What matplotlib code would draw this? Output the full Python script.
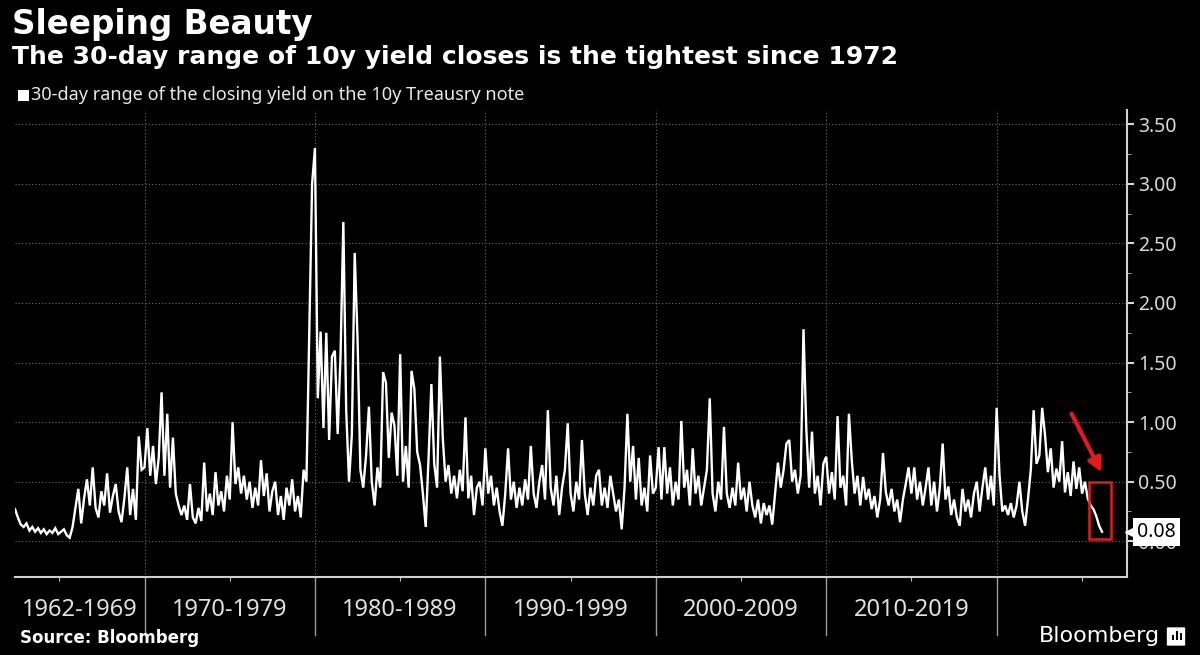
import numpy as np
import matplotlib
matplotlib.use('Agg')
import matplotlib.pyplot as plt
import matplotlib.transforms as mtransforms
from matplotlib.patches import Rectangle, FancyBboxPatch

# 30-day range of the 10y closing yield (one list per decade)
r1960s = [0.27, 0.20, 0.14, 0.12, 0.15, 0.09, 0.12, 0.08, 0.11, 0.07,
          0.10, 0.06, 0.09, 0.07, 0.11, 0.06, 0.08, 0.10, 0.05, 0.03,
          0.12, 0.28, 0.44, 0.15, 0.36, 0.52, 0.30, 0.62, 0.28, 0.20,
          0.42, 0.30, 0.57, 0.24, 0.38, 0.48, 0.25, 0.16, 0.36, 0.62,
          0.22, 0.44, 0.18, 0.88, 0.60]
r1970s = [0.62, 0.95, 0.55, 0.80, 0.48, 0.70, 1.25, 0.55, 1.07, 0.45,
          0.87, 0.40, 0.30, 0.22, 0.30, 0.18, 0.48, 0.20, 0.15, 0.28,
          0.17, 0.66, 0.25, 0.40, 0.22, 0.58, 0.30, 0.42, 0.25, 0.55,
          0.35, 1.00, 0.48, 0.62, 0.40, 0.55, 0.35, 0.50, 0.28, 0.45,
          0.30, 0.68, 0.38, 0.57, 0.25, 0.42, 0.50, 0.22, 0.38, 0.18,
          0.45, 0.30, 0.52, 0.25, 0.38, 0.20, 0.60, 0.50, 1.76, 3.00]
r1980s = [3.30, 1.20, 1.76, 0.95, 1.75, 0.85, 1.55, 1.60, 0.90, 1.55,
          2.68, 1.10, 0.50, 0.90, 2.42, 1.70, 0.60, 0.45, 0.72, 1.13,
          0.50, 0.30, 0.62, 0.45, 1.42, 1.33, 0.70, 1.08, 0.97, 0.55,
          1.57, 0.50, 0.80, 0.45, 1.43, 1.28, 0.75, 0.64, 0.40, 0.12,
          0.70, 1.32, 0.65, 0.45, 1.55, 0.87, 0.50, 0.64, 0.40, 0.55,
          0.36, 0.60, 0.42, 1.04, 0.36, 0.55, 0.22, 0.45, 0.50, 0.30]
r1990s = [0.78, 0.40, 0.55, 0.30, 0.45, 0.25, 0.13, 0.40, 0.78, 0.35,
          0.50, 0.28, 0.45, 0.30, 0.52, 0.35, 0.80, 0.40, 0.28, 0.50,
          0.64, 0.35, 1.10, 0.45, 0.30, 0.55, 0.22, 0.45, 0.60, 0.99,
          0.40, 0.25, 0.50, 0.35, 0.85, 0.40, 0.22, 0.45, 0.30, 0.55,
          0.60, 0.30, 0.45, 0.28, 0.55, 0.40, 0.25, 0.35, 0.10, 0.45,
          1.07, 0.50, 0.80, 0.35, 0.70, 0.30, 0.45, 0.25, 0.72, 0.40]
r2000s = [0.45, 0.79, 0.35, 0.79, 0.40, 0.62, 0.30, 0.50, 0.35, 1.01,
          0.45, 0.60, 0.30, 0.78, 0.40, 0.55, 0.30, 0.45, 0.60, 1.20,
          0.40, 0.25, 0.50, 0.35, 0.96, 0.40, 0.28, 0.45, 0.30, 0.66,
          0.35, 0.45, 0.25, 0.50, 0.30, 0.20, 0.35, 0.15, 0.32, 0.22,
          0.30, 0.14, 0.40, 0.66, 0.45, 0.60, 0.82, 0.85, 0.50, 0.60,
          0.40, 0.55, 1.78, 0.94, 0.45, 0.92, 0.40, 0.55, 0.30, 0.65]
r2010s = [0.71, 0.40, 0.58, 0.35, 1.05, 0.45, 0.55, 0.30, 1.07, 0.68,
          0.40, 0.55, 0.30, 0.54, 0.35, 0.44, 0.27, 0.38, 0.20, 0.35,
          0.74, 0.41, 0.30, 0.44, 0.25, 0.35, 0.16, 0.35, 0.48, 0.62,
          0.40, 0.62, 0.35, 0.50, 0.30, 0.45, 0.62, 0.30, 0.50, 0.25,
          0.45, 0.82, 0.35, 0.46, 0.22, 0.35, 0.20, 0.13, 0.44, 0.25,
          0.35, 0.20, 0.40, 0.50, 0.25, 0.45, 0.62, 0.35, 0.55, 0.30]
r2020s = [1.12, 0.56, 0.25, 0.30, 0.22, 0.32, 0.20, 0.30, 0.50, 0.25,
          0.13, 0.35, 0.60, 1.10, 0.65, 0.72, 1.12, 0.89, 0.58, 0.78,
          0.45, 0.61, 0.50, 0.84, 0.41, 0.58, 0.38, 0.67, 0.44, 0.62,
          0.40, 0.50, 0.36, 0.30, 0.27, 0.21, 0.13, 0.08]

segments = [(1962.4, 1970, r1960s), (1970, 1980, r1970s), (1980, 1990, r1980s),
            (1990, 2000, r1990s), (2000, 2010, r2000s), (2010, 2020, r2010s),
            (2020, 2026.35, r2020s)]

decade_edges = [1970, 1980, 1990, 2000, 2010, 2020]
decade_labels = ['1962-1969', '1970-1979', '1980-1989', '1990-1999',
                 '2000-2009', '2010-2019']
label_pos = [1966.2, 1975, 1985, 1995, 2005, 2015]
last_value = 0.08

xs, ys = [], []
for start, end, vals in segments:
    xs.extend(np.linspace(start, end, len(vals), endpoint=False))
    ys.extend(vals)

fig = plt.figure(figsize=(12, 6.55), dpi=100, facecolor='black')
ax = fig.add_axes([15/1200, 1-577/655, (1127-15)/1200, (577-110)/655])
ax.set_facecolor('black')

ax.plot(xs, ys, color='white', lw=1.7, zorder=3, solid_joinstyle='miter')
ax.set_xlim(1962.4, 2027.65)
ax.set_ylim(-0.30, 3.62)

# grid
for y in np.arange(0, 3.51, 0.5):
    ax.axhline(y, color='#6a6a6a', ls=(0, (1, 2)), lw=0.8, zorder=0)
for e in decade_edges:
    ax.axvline(e, color='#6a6a6a', ls=(0, (1, 2)), lw=0.8, zorder=0)

# y axis on right
ax.yaxis.tick_right()
ax.set_yticks(np.arange(0, 3.51, 0.5))
ax.set_yticks(np.arange(0.25, 3.5, 0.5), minor=True)
ax.yaxis.set_major_formatter('{x:.2f}')
ax.tick_params(axis='y', which='major', colors='#d8d8d8', labelsize=14,
               length=5, width=1.5, pad=3)
ax.tick_params(axis='y', which='minor', colors='#bbbbbb', length=3)
for lab in ax.get_yticklabels():
    lab.set_family('Noto Sans')

# x axis: small ticks mid-decade, separators at decade edges
ax.set_xticks([1965, 1975, 1985, 1995, 2005, 2015, 2025])
ax.tick_params(axis='x', length=3, color='#bbbbbb', labelbottom=False)
for s in ['top', 'left']:
    ax.spines[s].set_visible(False)
for s in ['right', 'bottom']:
    ax.spines[s].set_color('#cfcfcf')
    ax.spines[s].set_linewidth(1.5)

trans = mtransforms.blended_transform_factory(ax.transData, ax.transAxes)
for e in decade_edges:
    ax.plot([e, e], [0, -0.125], transform=trans, clip_on=False,
            color='#9a9a9a', lw=1)
for lab, p in zip(decade_labels, label_pos):
    ax.text(p, -0.071, lab, transform=trans, ha='center', va='center',
            fontsize=17, color='#e0e0e0', family='Noto Sans')

# highlight of the latest reading
ax.add_patch(Rectangle((2025.4, 0.02), 1.3, 0.48, fill=False,
                       ec='#e3191c', lw=1.8, zorder=4))
ax.annotate('', xy=(2026.15, 0.58), xytext=(2024.4, 1.07),
            arrowprops=dict(arrowstyle='-|>', color='#e3191c', lw=3,
                            mutation_scale=20, shrinkA=0, shrinkB=0))

ytrans = mtransforms.blended_transform_factory(ax.transAxes, ax.transData)
ax.plot([1.004], [last_value], marker='<', ms=8, color='white',
        transform=ytrans, clip_on=False, zorder=6)
ax.text(1.009, last_value, '%.2f' % last_value, transform=ytrans,
        fontsize=14, color='black', va='center', ha='left', family='Noto Sans',
        bbox=dict(boxstyle='square,pad=0.2', fc='white', ec='none'), zorder=6)

# titles
fig.text(12/1200, 1-34/655, 'Sleeping Beauty', fontsize=23.5,
         fontweight='bold', color='white', va='baseline')
fig.text(12/1200, 1-64/655,
         'The 30-day range of 10y yield closes is the tightest since 1972',
         fontsize=18, fontweight='bold', color='white', va='baseline')
fig.patches.append(Rectangle((18/1200, 1-101/655), 11/1200, 11/655,
                             transform=fig.transFigure, fc='white', ec='none'))
fig.text(31/1200, 1-95/655,
         '30-day range of the closing yield on the 10y Treausry note',
         fontsize=13, color='#e8e8e8', va='center', family='Noto Sans')

fig.text(20/1200, 1-638/655, 'Source: Bloomberg', fontsize=12,
         fontweight='bold', color='white', va='center')
fig.text(1160/1200, 1-636/655, 'Bloomberg', fontsize=16, color='white',
         ha='right', va='center')
fig.patches.append(FancyBboxPatch((1168/1200, 1-645/655), 16/1200, 17/655,
                                  boxstyle='round,pad=0.001',
                                  transform=fig.transFigure, fc='white', ec='none'))
for bx, bh in [(1172, 5), (1176, 9), (1180, 7)]:
    fig.patches.append(Rectangle((bx/1200, 1-640/655), 2/1200, bh/655,
                                 transform=fig.transFigure, fc='black', ec='none'))

fig.savefig('out.png', dpi=100, facecolor='black')
